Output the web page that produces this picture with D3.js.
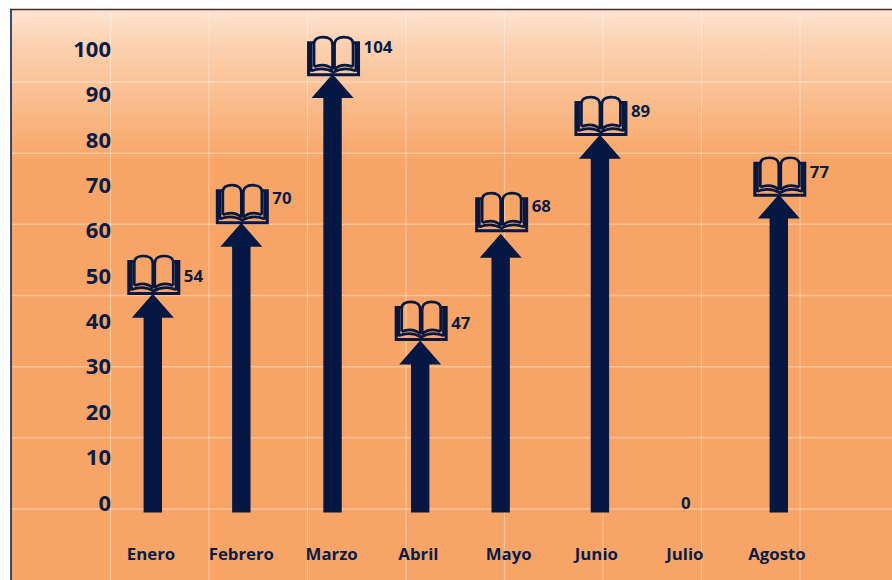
<!DOCTYPE html>
<html>
<head>
<meta charset="utf-8">
<style>
  html, body { margin: 0; padding: 0; background: #fff; overflow: hidden; }
  text { font-family: "Open Sans", "Noto Sans", sans-serif; font-weight: 700; fill: #0b1c48; }
</style>
</head>
<body>
<div id="chart"></div>
<script src="https://cdn.jsdelivr.net/npm/d3@7"></script>
<script>
var months = ['Enero', 'Febrero', 'Marzo', 'Abril', 'Mayo', 'Junio', 'Julio', 'Agosto'];
// printed label of each month
var values = [54, 70, 104, 47, 68, 89, 0, 77];
// arrows and labels in the picture do not follow the values exactly, so they are read apart
var arrowLengths = [51.9, 68.7, 104, 40.8, 66.1, 89.6, 0, 75.4];
var bookLengths = [51.7, 68.5, 103.6, 40.8, 66.6, 89.4, 0, 75];
var labelLevels = [50, 67.2, 100.6, 39.7, 65.6, 86.5, 0, 73];
var arrowSlots = [0.02, 1.01, 2.03, 3.01, 3.91, 5.02, 5.98, 7.02];
var labelSlots = [0, 1.01, 2.02, 2.99, 4, 4.98, 5.97, 7];
var yTicks = [0, 10, 20, 30, 40, 50, 60, 70, 80, 90, 100];
var gridRows = [0, 1, 2, 3, 4, 5, 6];
var gridCols = [0, 1, 2, 3, 4, 5, 6, 7];

var width = 892, height = 580, navy = '#041843';

var svg = d3.select('#chart').append('svg')
    .attr('width', width)
    .attr('height', height)
    .style('display', 'block');

var x = d3.scaleLinear().domain([0, 7]).range([151, 777]);
var yArrow = d3.scaleLinear().domain([0, 104]).range([512.5, 74]);
var yTick = d3.scaleLinear().domain([0, 100]).range([503, 49.5]);
var yGrid = d3.scaleLinear().domain([0, 6]).range([509, 82]);
var xGrid = d3.scaleLinear().domain([0, 7]).range([110.5, 800]);

var grad = svg.append('defs').append('linearGradient')
    .attr('id', 'bg')
    .attr('x1', 0).attr('x2', 0).attr('y1', 0).attr('y2', 1);
grad.append('stop').attr('offset', '0').attr('stop-color', '#fde5d4');
grad.append('stop').attr('offset', '0.055').attr('stop-color', '#fcd3b3');
grad.append('stop').attr('offset', '0.27').attr('stop-color', '#f7a566');
grad.append('stop').attr('offset', '1').attr('stop-color', '#f7a566');

svg.append('rect')
    .attr('x', 11).attr('y', 9)
    .attr('width', width - 11).attr('height', height - 9)
    .attr('fill', 'url(#bg)');

// grid
svg.append('g').selectAll('line').data(gridRows).join('line')
    .attr('x1', 12).attr('x2', width)
    .attr('y1', yGrid).attr('y2', yGrid)
    .attr('stroke', '#fff').attr('stroke-opacity', 0.35).attr('stroke-width', 1.5);
svg.append('g').selectAll('line').data(gridCols).join('line')
    .attr('x1', xGrid).attr('x2', xGrid)
    .attr('y1', 11).attr('y2', height)
    .attr('stroke', '#fff').attr('stroke-opacity', 0.35).attr('stroke-width', 1.2);

// frame
svg.append('line').attr('x1', 10).attr('x2', width).attr('y1', 9.5).attr('y2', 9.5)
    .attr('stroke', '#4a2c28').attr('stroke-width', 1.4);
svg.append('line').attr('x1', 11).attr('x2', 11).attr('y1', 9).attr('y2', height)
    .attr('stroke', '#0b2260').attr('stroke-width', 1.6);

// y labels
var axis = svg.append('g')
    .attr('transform', 'translate(110,0)')
    .call(d3.axisLeft(yTick).tickValues(yTicks).tickSize(0).tickPadding(-1));
axis.select('.domain').remove();
axis.selectAll('text')
    .style('font-family', '"Open Sans", "Noto Sans", sans-serif')
    .style('font-size', '22px')
    .style('font-weight', 700)
    .style('fill', '#0b1c48');

// month labels
svg.append('g').selectAll('text').data(months).join('text')
    .attr('x', function(d, i) { return x(labelSlots[i]); })
    .attr('y', 560)
    .attr('text-anchor', 'middle')
    .attr('font-size', 16.8)
    .text(function(d) { return d; });

var rows = months.map(function(m, i) {
  return { month: m, value: values[i], length: arrowLengths[i], book: bookLengths[i], level: labelLevels[i], slot: arrowSlots[i] };
});

function arrowPath(d) {
  var tip = yArrow(d.length) - yArrow(0);
  var p = d3.path();
  p.moveTo(0, tip);
  p.lineTo(21, tip + 24);
  p.lineTo(9.2, tip + 24);
  p.lineTo(9.2, 0);
  p.lineTo(-9.2, 0);
  p.lineTo(-9.2, tip + 24);
  p.lineTo(-21, tip + 24);
  p.closePath();
  return p.toString();
}

var bookCover = 'M-20,-33 H-25 V-1 H25 V-33 H20 M-22.5,-32 V-4 M22.5,-32 V-4';
var bookPages = [
  'M-19.5,-9 V-32 C-19.5,-37 -15,-38.5 -10,-38.5 C-5,-38.5 -1,-36 -1,-31 V-6',
  'M19.5,-9 V-32 C19.5,-37 15,-38.5 10,-38.5 C5,-38.5 1,-36 1,-31 V-6',
  'M-19.5,-9 C-13,-11.5 -6,-11 -1,-6.5 M19.5,-9 C13,-11.5 6,-11 1,-6.5',
  'M-22,-5 C-14,-8 -6,-7 0,-3.5 C6,-7 14,-8 22,-5'
].join(' ');

var marks = svg.append('g').selectAll('g').data(rows.filter(function(d) { return d.value > 0; })).join('g')
    .attr('transform', function(d) { return 'translate(' + x(d.slot) + ',' + yArrow(0) + ')'; });

marks.append('path')
    .attr('d', arrowPath)
    .attr('fill', navy);

var books = marks.append('g')
    .attr('transform', function(d) { return 'translate(1,' + (yArrow(d.book) - yArrow(0)) + ')'; })
    .attr('fill', 'none')
    .attr('stroke', navy);
books.append('path').attr('d', bookCover).attr('stroke-width', 3);
books.append('path').attr('d', bookPages).attr('stroke-width', 2.7);

marks.append('text')
    .attr('x', 31)
    .attr('y', function(d) { return yTick(d.level) - yArrow(0); })
    .attr('dy', '0.36em')
    .attr('font-size', 16.8)
    .text(function(d) { return d.value; });

// Julio has no arrow, only its value
svg.append('g').selectAll('text').data(rows.filter(function(d) { return d.value === 0; })).join('text')
    .attr('x', function(d) { return x(d.slot); })
    .attr('y', function(d) { return yTick(d.level); })
    .attr('dy', '0.36em')
    .attr('text-anchor', 'middle')
    .attr('font-size', 16.8)
    .text(function(d) { return d.value; });
</script>
</body>
</html>
